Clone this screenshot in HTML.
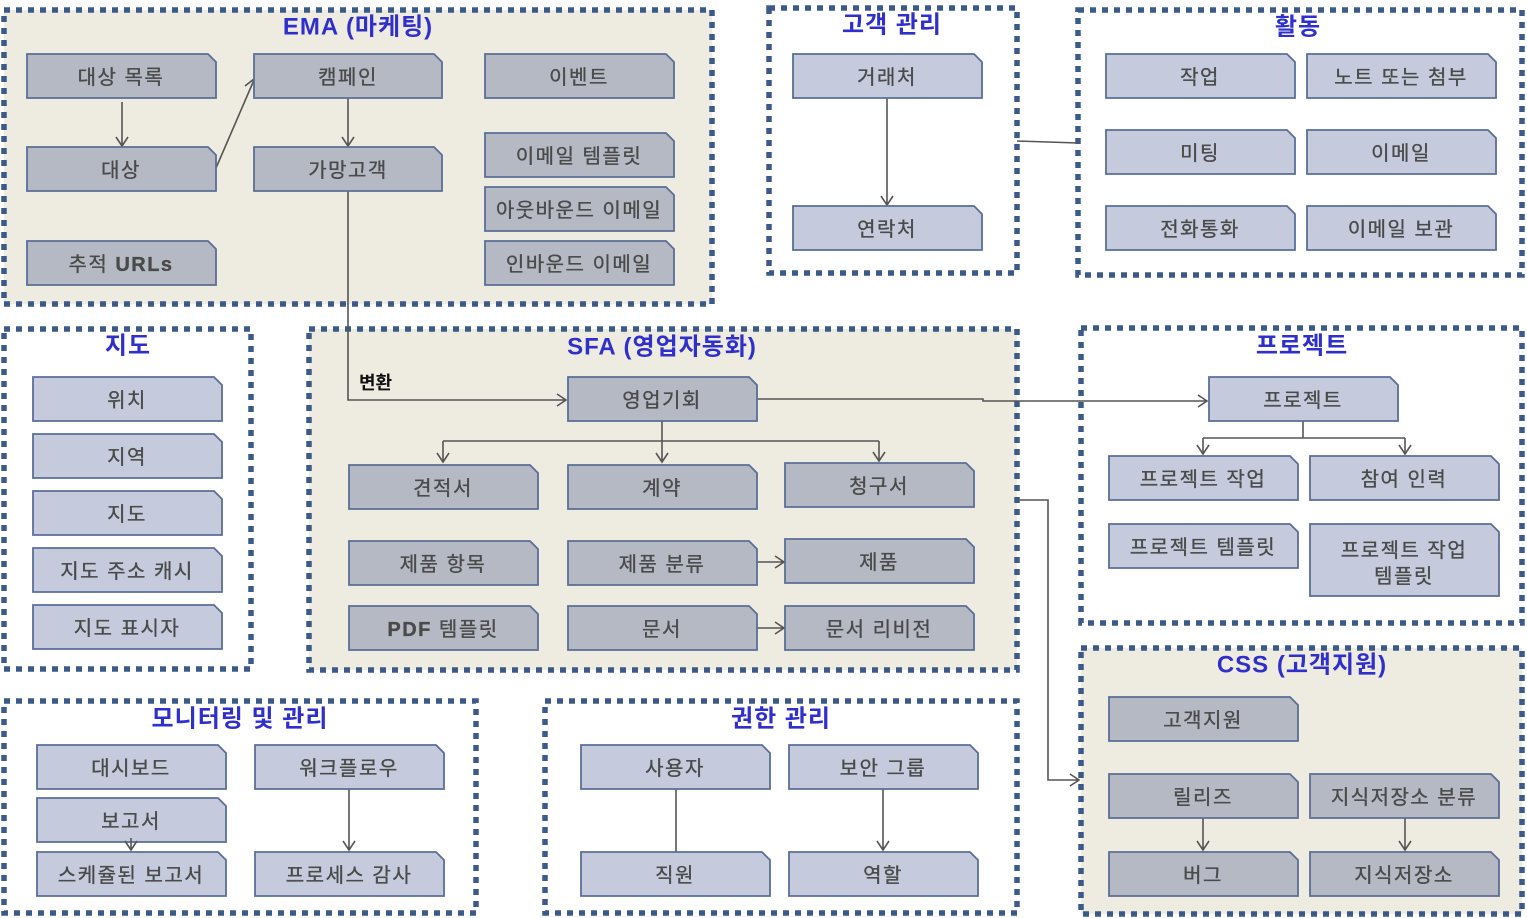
<!DOCTYPE html>
<html><head><meta charset="utf-8">
<style>
html,body{margin:0;padding:0;background:#fff;}
svg{display:block;}
.t{font-family:"Liberation Sans","Noto Sans CJK KR",sans-serif;font-size:20px;fill:#4a4a4a;stroke:#4a4a4a;stroke-width:0.35;letter-spacing:1.5px;text-anchor:middle;dominant-baseline:central;}
.h{font-family:"Liberation Sans","Noto Sans CJK KR",sans-serif;font-size:24px;font-weight:bold;fill:#2f2fcc;letter-spacing:1px;text-anchor:middle;dominant-baseline:central;}
.g{stroke:#3b5a8a;stroke-width:5.5;stroke-dasharray:6 6;}
.bd{fill:#b5b9c3;stroke:#5a6e97;stroke-width:1.8;}
.bl{fill:#c5cbdc;stroke:#5a6e97;stroke-width:1.8;}
.c{fill:none;stroke:#555;stroke-width:1.6;}
</style></head>
<body>
<svg width="1527" height="918" viewBox="0 0 1527 918" xmlns="http://www.w3.org/2000/svg">
<!-- groups -->
<rect class="g" x="4" y="10" width="708" height="294" fill="#eeebe1"/>
<rect class="g" x="769" y="8" width="248" height="265" fill="#fff"/>
<rect class="g" x="1078" y="10" width="444" height="265" fill="#fff"/>
<rect class="g" x="4" y="329" width="247" height="340" fill="#fff"/>
<rect class="g" x="309" y="329" width="708" height="341" fill="#eeebe1"/>
<rect class="g" x="1081" y="328" width="441" height="295" fill="#fff"/>
<rect class="g" x="1081" y="648" width="441" height="266" fill="#eeebe1"/>
<rect class="g" x="4" y="701" width="472" height="212" fill="#fff"/>
<rect class="g" x="545" y="701" width="472" height="212" fill="#fff"/>

<!-- titles -->
<text class="h" x="358" y="27">EMA (마케팅)</text>
<text class="h" x="892" y="25">고객 관리</text>
<text class="h" x="1298" y="27">활동</text>
<text class="h" x="128" y="346">지도</text>
<text class="h" x="662" y="347">SFA (영업자동화)</text>
<text class="h" x="1302" y="346">프로젝트</text>
<text class="h" x="1302" y="665">CSS (고객지원)</text>
<text class="h" x="240" y="719">모니터링 및 관리</text>
<text class="h" x="781" y="719">권한 관리</text>

<!-- connectors -->
<g class="c">
<path d="M122,102 V145 M116,137 L122,146 L128,137"/>
<path d="M216,168 L254,80"/>
<path d="M245,86 L254,79 L256,90"/>
<path d="M348,98 V145 M342,137 L348,146 L354,137"/>
<path d="M348,191 V400 H566 M557,394 L566,400 L557,406"/>
<path d="M662,421 V441 M443,441 H879 M443,441 V462 M662,441 V462 M879,441 V461"/>
<path d="M437,453 L443,462 L449,453 M656,453 L662,462 L668,453 M873,452 L879,461 L885,452"/>
<path d="M757,562 H784 M775,556 L784,562 L775,568"/>
<path d="M757,628 H784 M775,622 L784,628 L775,634"/>
<path d="M757,399 H983 V401 H1207 M1198,395 L1207,401 L1198,407"/>
<path d="M1017,500 H1048 V780 H1079 M1070,774 L1079,780 L1070,786"/>
<path d="M1017,141 L1078,143"/>
<path d="M887,98 V204 M881,196 L887,205 L893,196"/>
<path d="M1303,421 V438 M1203,438 H1405 M1203,438 V454 M1405,438 V454"/>
<path d="M1197,445 L1203,454 L1209,445 M1399,445 L1405,454 L1411,445"/>
<path d="M1203,818 V850 M1197,841 L1203,850 L1209,841"/>
<path d="M1405,818 V850 M1399,841 L1405,850 L1411,841"/>
<path d="M349,789 V850 M343,841 L349,850 L355,841"/>
<path d="M676,789 V852"/>
<path d="M883,789 V850 M877,841 L883,850 L889,841"/>
</g>
<text x="359" y="389" style="font-family:'Liberation Sans','Noto Sans CJK KR',sans-serif;font-size:18px;font-weight:bold;fill:#111;">변환</text>

<!-- boxes -->
<g id="boxes">
<!-- EMA -->
<polygon class="bd" points="27,54 208,54 216,62 216,98 27,98"/><text class="t" x="121" y="78">대상 목록</text>
<polygon class="bd" points="254,54 434,54 442,62 442,98 254,98"/><text class="t" x="348" y="78">캠페인</text>
<polygon class="bd" points="485,54 666,54 674,62 674,98 485,98"/><text class="t" x="579" y="78">이벤트</text>
<polygon class="bd" points="27,147 208,147 216,155 216,191 27,191"/><text class="t" x="121" y="171">대상</text>
<polygon class="bd" points="254,147 434,147 442,155 442,191 254,191"/><text class="t" x="348" y="171">가망고객</text>
<polygon class="bd" points="485,133 666,133 674,141 674,177 485,177"/><text class="t" x="579" y="157">이메일 템플릿</text>
<polygon class="bd" points="485,187 666,187 674,195 674,231 485,231"/><text class="t" x="579" y="211">아웃바운드 이메일</text>
<polygon class="bd" points="485,241 666,241 674,249 674,285 485,285"/><text class="t" x="579" y="265">인바운드 이메일</text>
<polygon class="bd" points="27,241 208,241 216,249 216,285 27,285"/><text class="t" x="121" y="265">추적 <tspan font-weight="bold">URLs</tspan></text>
<!-- 고객 관리 -->
<polygon class="bl" points="793,54 974,54 982,62 982,98 793,98"/><text class="t" x="887" y="78">거래처</text>
<polygon class="bl" points="793,206 974,206 982,214 982,250 793,250"/><text class="t" x="887" y="230">연락처</text>
<!-- 활동 -->
<polygon class="bl" points="1106,54 1287,54 1295,62 1295,98 1106,98"/><text class="t" x="1200" y="78">작업</text>
<polygon class="bl" points="1307,54 1488,54 1496,62 1496,98 1307,98"/><text class="t" x="1401" y="78">노트 또는 첨부</text>
<polygon class="bl" points="1106,130 1287,130 1295,138 1295,174 1106,174"/><text class="t" x="1200" y="154">미팅</text>
<polygon class="bl" points="1307,130 1488,130 1496,138 1496,174 1307,174"/><text class="t" x="1401" y="154">이메일</text>
<polygon class="bl" points="1106,206 1287,206 1295,214 1295,250 1106,250"/><text class="t" x="1200" y="230">전화통화</text>
<polygon class="bl" points="1307,206 1488,206 1496,214 1496,250 1307,250"/><text class="t" x="1401" y="230">이메일 보관</text>
<!-- 지도 -->
<polygon class="bl" points="33,377 214,377 222,385 222,421 33,421"/><text class="t" x="127" y="401">위치</text>
<polygon class="bl" points="33,434 214,434 222,442 222,478 33,478"/><text class="t" x="127" y="458">지역</text>
<polygon class="bl" points="33,491 214,491 222,499 222,535 33,535"/><text class="t" x="127" y="515">지도</text>
<polygon class="bl" points="33,548 214,548 222,556 222,592 33,592"/><text class="t" x="127" y="572">지도 주소 캐시</text>
<polygon class="bl" points="33,605 214,605 222,613 222,649 33,649"/><text class="t" x="127" y="629">지도 표시자</text>
<!-- SFA -->
<polygon class="bd" points="568,377 749,377 757,385 757,421 568,421"/><text class="t" x="662" y="401">영업기회</text>
<polygon class="bd" points="349,465 530,465 538,473 538,509 349,509"/><text class="t" x="443" y="489">견적서</text>
<polygon class="bd" points="568,465 749,465 757,473 757,509 568,509"/><text class="t" x="662" y="489">계약</text>
<polygon class="bd" points="785,463 966,463 974,471 974,507 785,507"/><text class="t" x="879" y="487">청구서</text>
<polygon class="bd" points="349,541 530,541 538,549 538,585 349,585"/><text class="t" x="443" y="565">제품 항목</text>
<polygon class="bd" points="568,541 749,541 757,549 757,585 568,585"/><text class="t" x="662" y="565">제품 분류</text>
<polygon class="bd" points="785,539 966,539 974,547 974,583 785,583"/><text class="t" x="879" y="563">제품</text>
<polygon class="bd" points="349,606 530,606 538,614 538,650 349,650"/><text class="t" x="443" y="630"><tspan font-weight="bold">PDF</tspan> 템플릿</text>
<polygon class="bd" points="568,606 749,606 757,614 757,650 568,650"/><text class="t" x="662" y="630">문서</text>
<polygon class="bd" points="785,606 966,606 974,614 974,650 785,650"/><text class="t" x="879" y="630">문서 리비전</text>
<!-- 프로젝트 -->
<polygon class="bl" points="1209,377 1390,377 1398,385 1398,421 1209,421"/><text class="t" x="1303" y="401">프로젝트</text>
<polygon class="bl" points="1109,456 1290,456 1298,464 1298,500 1109,500"/><text class="t" x="1203" y="480">프로젝트 작업</text>
<polygon class="bl" points="1310,456 1491,456 1499,464 1499,500 1310,500"/><text class="t" x="1404" y="480">참여 인력</text>
<polygon class="bl" points="1109,524 1290,524 1298,532 1298,568 1109,568"/><text class="t" x="1203" y="548">프로젝트 템플릿</text>
<polygon class="bl" points="1310,524 1491,524 1499,532 1499,596 1310,596"/><text class="t" x="1404" y="551">프로젝트 작업</text><text class="t" x="1404" y="577">템플릿</text>
<!-- CSS -->
<polygon class="bd" points="1109,697 1290,697 1298,705 1298,741 1109,741"/><text class="t" x="1203" y="721">고객지원</text>
<polygon class="bd" points="1109,774 1290,774 1298,782 1298,818 1109,818"/><text class="t" x="1203" y="798">릴리즈</text>
<polygon class="bd" points="1310,774 1491,774 1499,782 1499,818 1310,818"/><text class="t" x="1404" y="798">지식저장소 분류</text>
<polygon class="bd" points="1109,852 1290,852 1298,860 1298,896 1109,896"/><text class="t" x="1203" y="876">버그</text>
<polygon class="bd" points="1310,852 1491,852 1499,860 1499,896 1310,896"/><text class="t" x="1404" y="876">지식저장소</text>
<!-- 모니터링 -->
<polygon class="bl" points="37,745 218,745 226,753 226,789 37,789"/><text class="t" x="131" y="769">대시보드</text>
<polygon class="bl" points="37,798 218,798 226,806 226,842 37,842"/><text class="t" x="131" y="822">보고서</text>
<polygon class="bl" points="37,852 218,852 226,860 226,896 37,896"/><text class="t" x="131" y="876">스케쥴된 보고서</text>
<polygon class="bl" points="255,745 436,745 444,753 444,789 255,789"/><text class="t" x="349" y="769">워크플로우</text>
<polygon class="bl" points="255,852 436,852 444,860 444,896 255,896"/><text class="t" x="349" y="876">프로세스 감사</text>
<!-- 권한 -->
<polygon class="bl" points="581,745 762,745 770,753 770,789 581,789"/><text class="t" x="675" y="769">사용자</text>
<polygon class="bl" points="789,745 970,745 978,753 978,789 789,789"/><text class="t" x="883" y="769">보안 그룹</text>
<polygon class="bl" points="581,852 762,852 770,860 770,896 581,896"/><text class="t" x="675" y="876">직원</text>
<polygon class="bl" points="789,852 970,852 978,860 978,896 789,896"/><text class="t" x="883" y="876">역할</text>
</g>
<!-- small arrow overlapping 보고서 -> 스케쥴된 보고서 -->
<path class="c" d="M131,838 V850 M125,841 L131,850 L137,841"/>
</svg>
</body></html>
